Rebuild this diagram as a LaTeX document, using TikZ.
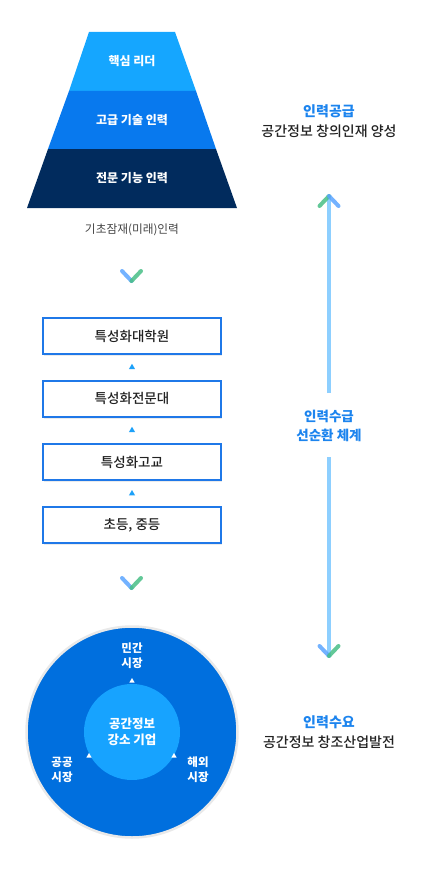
\documentclass[tikz,border=0pt]{standalone}
\usepackage{fontspec}
\setmainfont{Noto Sans CJK KR}
\newfontfamily\krmed{Noto Sans CJK KR Medium}
\usetikzlibrary{calc, shapes.geometric, shadows}

\definecolor{leadblue}{HTML}{15A6FF}
\definecolor{highblue}{HTML}{0879EE}
\definecolor{basenavy}{HTML}{012B5D}
\definecolor{boxblue}{HTML}{1F78E8}
\definecolor{tipblue}{HTML}{1DA1F9}
\definecolor{ringblue}{HTML}{006FDE}
\definecolor{coreblue}{HTML}{17A3FF}
\definecolor{ringgray}{HTML}{E9E9E9}
\definecolor{flowblue}{HTML}{8DCFFF}
\definecolor{chevblue}{HTML}{5AA4FF}
\definecolor{chevgreen}{HTML}{48BE86}
\definecolor{titleblue}{HTML}{1C84EE}
\definecolor{textdark}{HTML}{222222}
\definecolor{textgray}{HTML}{444444}

\tikzset{
	band label/.style={text=white, font=\bfseries\fontsize{12}{14}\selectfont},
	course/.style={draw=boxblue, line width=2pt, fill=white, minimum width=178pt, minimum height=36pt,
		text=textdark, font=\krmed\fontsize{13.5}{15}\selectfont,
		drop shadow={shadow xshift=1pt, shadow yshift=-2pt, opacity=0.08, fill=black}},
	uptip/.style={regular polygon, regular polygon sides=3, inner sep=0pt, minimum size=7pt, fill=#1},
	uptip/.default=tipblue,
	market label/.style={text=white, align=center, font=\bfseries\fontsize{11.5}{15}\selectfont},
	side label/.style={align=center, text=textdark, font=\krmed\fontsize{14}{19.5}\selectfont},
	chev/.style={line width=4pt, line cap=round, opacity=0.85},
	flowline/.style={flowblue, line width=4pt}
}

\begin{document}
\begin{tikzpicture}[x=1pt, y=-1pt]
			\useasboundingbox (0,0) rectangle (420,872);

			\fill [leadblue] (89,32) -- (175,32) -- (196,91) -- (69,91) -- cycle;
			\fill [highblue] (69,91) -- (196,91) -- (216,149) -- (48,149) -- cycle;
			\fill [basenavy] (48,149) -- (216,149) -- (237,208) -- (27,208) -- cycle;
			\node [band label] (leader) at (132,61) {핵심 리더};
			\node [band label] (expert) at (132,120) {고급 기술 인력};
			\node [band label] (skilled) at (132,178) {전문 기능 인력};
			\node [text=textgray, font=\fontsize{11.7}{13}\selectfont] (potential) at (132,230) {기초잠재(미래)인력};

			\draw [chev, chevblue] (122,271) -- (131.5,281);
			\draw [chev, chevgreen] (141,271) -- (131.5,281);

			\node [course] (grad) at (132,336) {특성화대학원};
			\node [course] (college) at (132,398.5) {특성화전문대};
			\node [course] (highschool) at (132,462) {특성화고교};
			\node [course] (school) at (132,525) {초등, 중등};
			\node [uptip] at ($(grad.south)!0.5!(college.north)$) {};
			\node [uptip] at ($(college.south)!0.5!(highschool.north)$) {};
			\node [uptip] at ($(highschool.south)!0.5!(school.north)$) {};

			\draw [chev, chevblue] (122,578) -- (131.5,588);
			\draw [chev, chevgreen] (141,578) -- (131.5,588);

			\node [circle, fill=ringblue, draw=ringgray, line width=2.5pt, minimum size=211pt] (market) at (132,732) {};
			\node [circle, fill=coreblue, minimum size=96pt, inner sep=0pt] (core) at (132,732) {};
			\node [text=white, align=center, font=\bfseries\fontsize{12.5}{15.5}\selectfont] at (core) {공간정보\\강소 기업};
			\node [market label] (private) at (132,655.5) {민간\\시장};
			\node [market label] (public) at (62,769.5) {공공\\시장};
			\node [market label] (overseas) at (198,769.5) {해외\\시장};
			\node [uptip=white, minimum size=6pt] at (132,681) {};
			\node [uptip=white, minimum size=6pt] at (89,756) {};
			\node [uptip=white, minimum size=6pt] at (174,756) {};

			\node [side label] (supply) at (329,121) {{\color{titleblue}\bfseries 인력공급}\\공간정보 창의인재 양성};
			\node [side label, text=titleblue, font=\bfseries\fontsize{13.5}{19.5}\selectfont] (cycle) at (329,426) {인력수급\\선순환 체계};
			\node [side label] (demand) at (329,732) {{\color{titleblue}\bfseries 인력수요}\\공간정보 창조산업발전};

			\coordinate (supplytip) at (329,196);
			\coordinate (cycletop) at (329,393);
			\coordinate (cyclebottom) at (329,457);
			\coordinate (demandtip) at (329,656);
			\draw [flowline] (cycletop) -- (supplytip);
			\draw [flowline] (cyclebottom) -- (demandtip);
			\draw [chev, chevgreen] (319.5,206) -- (329,196);
			\draw [chev, chevblue] (338.5,206) -- (329,196);
			\draw [chev, chevblue] (319.5,646) -- (329,656);
			\draw [chev, chevgreen] (338.5,646) -- (329,656);
		\end{tikzpicture}
\end{document}
